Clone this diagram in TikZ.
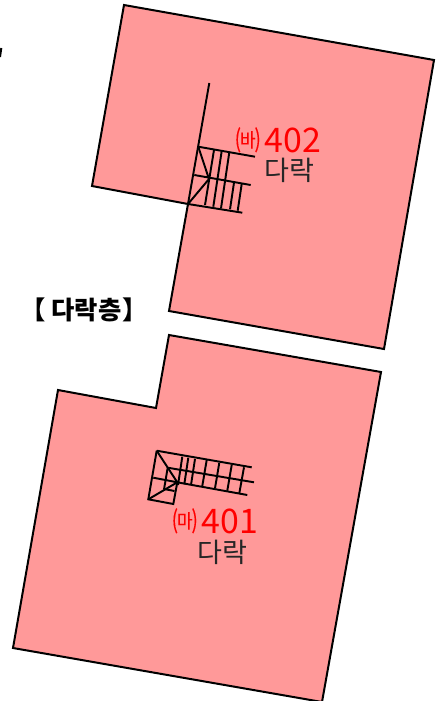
\documentclass[tikz,border=0pt]{standalone}
\usepackage{fontspec}
\newfontfamily\krfont{Noto Sans CJK KR}
\newfontfamily\krheavy{Noto Sans CJK KR}[FakeBold=0.35]
\definecolor{roomfill}{HTML}{FF9999}
\tikzset{
 room/.style={draw=black,fill=roomfill,line width=1.5pt,line join=miter},
 stair/.style={draw=black,line width=1.45pt},
 unitlabel/.style={text=red,inner sep=0pt,anchor=base west},
 uselabel/.style={text=black!85,inner sep=0pt,anchor=base west,font=\krfont\fontsize{20.3}{20}\selectfont},
}
\newcommand{\unitparen}[1]{\scalebox{0.75}[1]{\krheavy\fontsize{18.5}{19}\selectfont #1}}
\newcommand{\unittext}[2]{\makebox[22.6pt][l]{\raisebox{3.4pt}{\unitparen{(}\kern-0.8pt\raisebox{0.3pt}{\scalebox{0.88}[1]{\krheavy\fontsize{14.5}{15}\selectfont #1}}\kern-0.8pt\unitparen{)}}}\krfont\fontsize{25.4}{25}\selectfont #2}
\begin{document}
\begin{tikzpicture}[x=0.75pt,y=-0.75pt]
\useasboundingbox (0,0) rectangle (437,701);
\coordinate (ta) at (124,5);
\coordinate (tb) at (434,60);
\coordinate (tc) at (384,349);
\coordinate (td) at (169,311);
\coordinate (te) at (188,204);
\coordinate (tf) at (92,186);
\draw[room] (ta)--(tb)--(tc)--(td)--(te)--(tf)--cycle;
\coordinate (ba) at (169,335);
\coordinate (bb) at (381,372);
\coordinate (bc) at (322,702);
\coordinate (bd) at (13,648);
\coordinate (be) at (58,390);
\coordinate (bf) at (156,408);
\draw[room] (ba)--(bb)--(bc)--(bd)--(be)--(bf)--cycle;
% stray mark at the left edge
\coordinate (ma) at (1.3,48);
\coordinate (mb) at (0,57);
\draw[room] (ma)--(mb);
% top stair
\coordinate (w) at (209.3,83);
\coordinate (s1) at (198.3,146.7);
\coordinate (s2) at (194.3,175);
\coordinate (c) at (209,179);
\draw[stair] (w)--(te);
\draw[stair] (s1)--(255,156.7);
\draw[stair] (s2)--(250.7,185);
\draw[stair] (te)--(242.3,212.7);
\draw[stair] (s1)--(c)--(te);
\draw[stair] (214,150)--(205,205);
\draw[stair] (221.7,151)--(213.3,206.7);
\draw[stair] (229.3,152.3)--(221,208.3);
\draw[stair] (234,182.7)--(230,209.3);
\draw[stair] (241.7,184)--(237.7,210.7);
% bottom stair
\coordinate (p1) at (156.7,450.7);
\coordinate (p2) at (148.3,499.3);
\coordinate (p3) at (173.3,504);
\coordinate (c2) at (177.3,482.3);
\coordinate (i1) at (167.7,467.7);
\draw[stair] (p1)--(251.7,467.3);
\draw[stair] (p1)--(p2)--(p3)--(c2);
\draw[stair] (153.3,477.7)--(c2);
\draw[stair] (i1)--(254,482.3);
\draw[stair] (c2)--(247.3,495);
\draw[stair] (p1)--(c2)--(p2);
\draw[stair] (i1)--(164,489.5);
\draw[stair] (164,489)--(174.5,491);
\draw[stair] (182.3,456.7)--(178,485);
\draw[stair] (188.3,457.7)--(184.3,484.3);
\draw[stair] (195,459)--(191,485);
\draw[stair] (206.7,460)--(202.3,486);
\draw[stair] (219.3,462.7)--(215,488.3);
\draw[stair] (231.7,465)--(227.3,490.7);
\draw[stair] (244,467.3)--(239.3,493.3);
% labels
\node[unitlabel] (n402) at (234.5,152) {\unittext{바}{402}};
\node[uselabel] (u402) at (264,180) {다락};
\node[unitlabel] (n401) at (171.5,533) {\unittext{마}{401}};
\node[uselabel] (u401) at (197,562) {다락};
\node[inner sep=0pt,anchor=base west,font=\krfont\bfseries\fontsize{19}{19}\selectfont] (title) at (20,319) {【 다락층\kern-3.5pt{} 】};
\end{tikzpicture}
\end{document}
